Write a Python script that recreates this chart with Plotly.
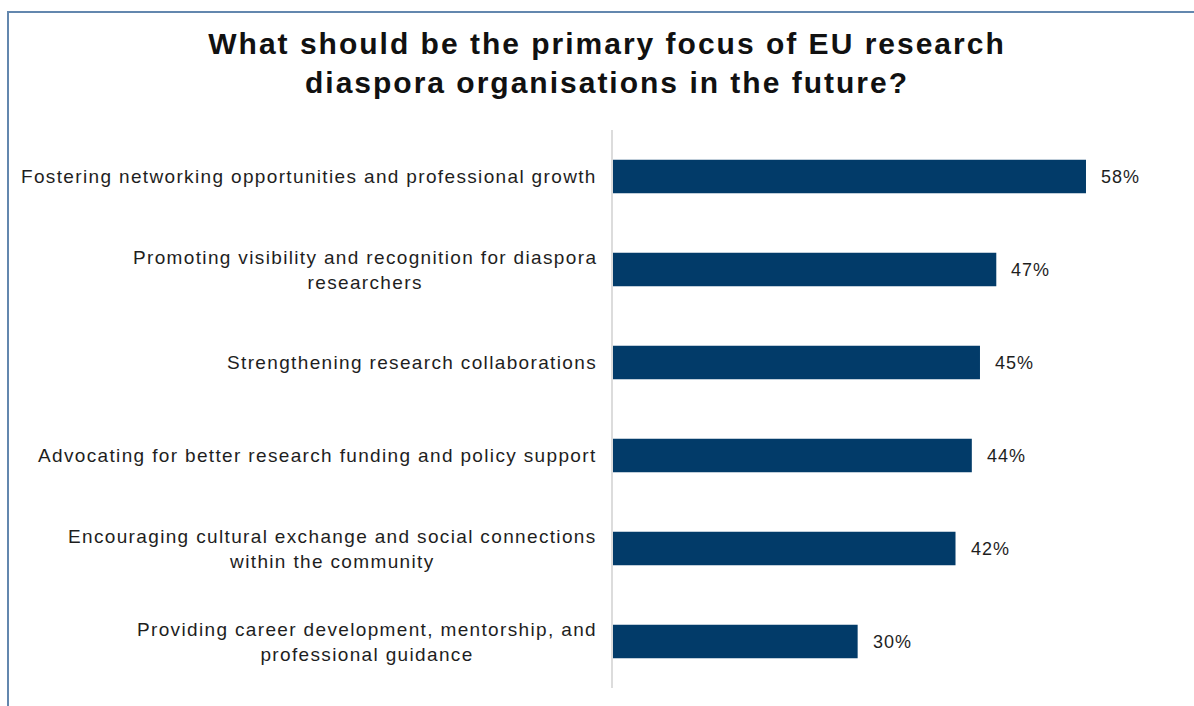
import plotly.graph_objects as go

# Survey answers, top to bottom
categories = [
    "Fostering networking opportunities and professional growth",
    "Promoting visibility and recognition for diaspora<br>researchers",
    "Strengthening research collaborations",
    "Advocating for better research funding and policy support",
    "Encouraging cultural exchange and social connections<br>within the community",
    "Providing career development, mentorship, and<br>professional guidance",
]
shares = [58, 47, 45, 44, 42, 30]
share_labels = ["58%", "47%", "45%", "44%", "42%", "30%"]

title_lines = ["What should be the primary focus of EU research",
               "diaspora organisations in the future?"]

W, H = 1194, 706
ML, MR, MT, MB = 613, 44, 130, 18
plot_w = W - ML - MR
plot_h = H - MT - MB

bar_color = "#023b69"
text_color = "#1e1e1e"
font_family = "Liberation Sans, Arial, sans-serif"


def spaced(s, px):
    """Wrap each line in a span with extra letter spacing."""
    return "<br>".join(
        f'<span style="letter-spacing:{px}px">{line}</span>' for line in s.split("<br>")
    )


fig = go.Figure()
fig.add_trace(go.Bar(
    x=shares,
    y=categories,
    orientation="h",
    width=0.36,
    marker=dict(color=bar_color, line=dict(width=0)),
    cliponaxis=False,
    hoverinfo="skip",
))

annotations = []
# Category labels: right-aligned block, centred lines
for cat in categories:
    annotations.append(dict(
        x=0, xref="paper", y=cat, yref="y",
        text=spaced(cat, 1.35), showarrow=False,
        xanchor="right", yanchor="middle", align="center",
        xshift=-14,
        font=dict(family=font_family, size=19, color=text_color),
    ))
# Value labels just past each bar end
for cat, v, lab in zip(categories, shares, share_labels):
    annotations.append(dict(
        x=v, xref="x", y=cat, yref="y",
        text=spaced(lab, 1), showarrow=False,
        xanchor="left", yanchor="middle",
        xshift=13,
        font=dict(family=font_family, size=18, color=text_color),
    ))

# Outer frame (left and top edges fall inside the page)
fl, ft = 8, 12
frame = dict(
    type="rect", xref="paper", yref="paper",
    x0=(fl - ML) / plot_w, x1=1.3,
    y0=-0.2, y1=(H - MB - ft) / plot_h,
    line=dict(color="#6387ae", width=2), fillcolor="rgba(0,0,0,0)",
    layer="above",
)

fig.update_layout(
    width=W, height=H,
    margin=dict(l=ML, r=MR, t=MT, b=MB),
    paper_bgcolor="white", plot_bgcolor="white",
    showlegend=False,
    title=dict(
        text=spaced("<br>".join(title_lines), 2.0),
        x=607 / W, xref="container", xanchor="center",
        y=1 - 54 / H, yref="container", yanchor="middle",
        font=dict(family=font_family, size=30, color="#111111", weight="bold"),
    ),
    xaxis=dict(range=[0, plot_w / 8.155], visible=False, fixedrange=True),
    yaxis=dict(
        autorange="reversed", showticklabels=False, ticks="",
        showgrid=False, zeroline=False,
        showline=True, linecolor="#dcdcdc", linewidth=1.5,
        fixedrange=True,
    ),
    annotations=annotations,
    shapes=[frame],
    bargap=0.64,
)

fig.write_html("out.html")
